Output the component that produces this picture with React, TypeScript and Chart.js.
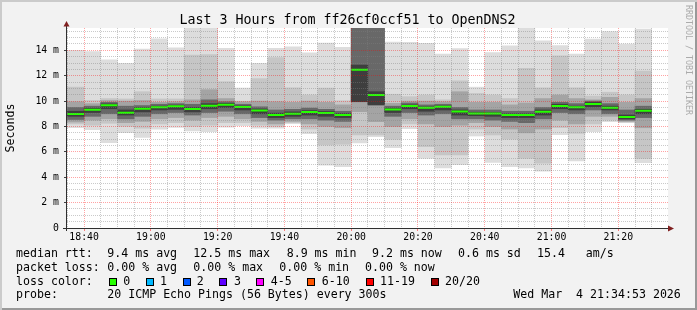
import React, { useEffect, useRef } from 'react';
import { Chart, registerables } from 'chart.js';

Chart.register(...registerables);

// ---- data ----
const barStarts = [
  '18:35', '18:40', '18:45', '18:50', '18:55', '19:00', '19:05', '19:10', '19:15', '19:20',
  '19:25', '19:30', '19:35', '19:40', '19:45', '19:50', '19:55', '20:00', '20:05', '20:10',
  '20:15', '20:20', '20:25', '20:30', '20:35', '20:40', '20:45', '20:50', '20:55', '21:00',
  '21:05', '21:10', '21:15', '21:20', '21:25',
];
const medianMs = [
  8.98, 9.32, 9.67, 9.09, 9.4, 9.51, 9.59, 9.38, 9.64, 9.72,
  9.53, 9.25, 8.9, 9.01, 9.14, 9.06, 8.9, 12.47, 10.48, 9.33,
  9.62, 9.48, 9.56, 9.18, 9.03, 9.02, 8.9, 8.9, 9.17, 9.62,
  9.51, 9.78, 9.48, 8.74, 9.23,
];
const maxMs = [
  14.0, 13.9, 13.25, 12.98, 14.1, 14.9, 14.2, 15.8, 15.8, 14.16,
  11.03, 12.98, 14.16, 14.28, 13.8, 14.57, 14.24, 20, 20, 14.65,
  14.63, 14.55, 13.7, 14.13, 11.1, 13.82, 14.36, 15.8, 14.75, 14.37,
  13.7, 14.89, 15.47, 14.5, 15.67,
];
const hi2 = [
  11.1, 10.05, 10.2, 10.17, 10.74, 10.17, 10.17, 13.63, 13.66, 11.53,
  10.0, 11.77, 13.42, 11.05, 10.48, 11.03, 10.03, 20, 20, 10.54,
  10.35, 10.48, 10.09, 11.6, 10.6, 10.48, 10.2, 12.58, 11.05, 13.56,
  11.05, 10.4, 10.7, 10.48, 12.37,
];
const hi3 = [
  9.95, 9.8, 10.05, 10.0, 10.05, 9.9, 9.95, 10.1, 10.9, 10.2,
  9.95, 10.0, 9.95, 9.9, 10.0, 9.9, 9.7, 20, 20, 9.82,
  10.0, 10.0, 9.95, 10.74, 9.9, 9.9, 9.7, 9.85, 10.2, 10.48,
  10.2, 10.1, 10.3, 9.9, 10.2,
];
const hi4 = [
  9.5, 9.6, 9.9, 9.6, 9.65, 9.75, 9.8, 9.75, 10.1, 9.95,
  9.75, 9.55, 9.3, 9.35, 9.45, 9.35, 9.2, 20, 20, 9.6,
  9.85, 9.7, 9.75, 9.5, 9.3, 9.3, 9.2, 9.2, 9.5, 9.9,
  9.8, 10.0, 9.8, 9.3, 9.6,
];
const hi5 = [
  9.2, 9.45, 9.78, 9.3, 9.5, 9.6, 9.68, 9.5, 9.8, 9.82,
  9.62, 9.38, 9.05, 9.15, 9.25, 9.18, 9.02, 12.84, 10.74, 9.45,
  9.7, 9.55, 9.62, 9.3, 9.12, 9.1, 9.0, 9.0, 9.3, 9.75,
  9.6, 9.9, 9.6, 8.9, 9.35,
];
const lo5 = [
  8.8, 9.1, 9.4, 8.9, 9.15, 9.3, 9.35, 9.15, 9.4, 9.5,
  9.3, 9.0, 8.7, 8.8, 8.9, 8.8, 8.7, 9.95, 9.7, 9.1,
  9.4, 9.2, 9.3, 8.9, 8.85, 8.8, 8.7, 8.7, 8.9, 9.4,
  9.3, 9.55, 9.3, 8.6, 9.0,
];
const lo4 = [
  8.55, 8.8, 9.0, 8.6, 8.8, 9.0, 9.1, 8.9, 9.1, 9.2,
  9.0, 8.7, 8.5, 8.6, 8.6, 8.5, 8.4, 9.95, 9.7, 8.8,
  9.1, 8.9, 9.0, 8.6, 8.6, 8.5, 8.4, 8.3, 8.6, 9.1,
  9.0, 9.3, 9.0, 8.5, 8.7,
];
const lo3 = [
  8.35, 8.5, 8.6, 8.3, 8.4, 8.6, 8.7, 8.5, 8.7, 8.8,
  8.6, 8.4, 8.2, 8.4, 8.2, 8.0, 7.9, 9.16, 8.38, 8.0,
  8.6, 8.2, 8.0, 8.1, 8.3, 8.0, 7.8, 7.5, 7.8, 8.5,
  8.2, 8.8, 8.8, 8.4, 7.9,
];
const lo2 = [
  8.2, 8.1, 8.25, 8.0, 7.86, 8.2, 8.3, 8.0, 8.1, 8.3,
  8.3, 8.1, 8.0, 8.3, 7.8, 6.54, 6.6, 7.33, 7.33, 6.99,
  8.2, 6.41, 5.75, 5.75, 7.8, 7.33, 7.0, 5.49, 5.1, 7.9,
  7.46, 8.2, 8.5, 8.35, 5.49,
];
const minMs = [
  7.9, 7.75, 6.72, 7.51, 7.13, 7.78, 7.92, 7.65, 7.59, 7.95,
  8.06, 7.86, 7.86, 8.22, 7.43, 4.96, 4.83, 6.7, 7.2, 6.33,
  7.83, 5.49, 4.74, 5.0, 7.25, 5.16, 4.83, 4.74, 4.47, 7.35,
  5.29, 7.59, 8.38, 8.3, 5.15,
];
const xTickLabels = ['18:40', '19:00', '19:20', '19:40', '20:00', '20:20', '20:40', '21:00', '21:20'];
const yTickLabels = ['0', '2 m', '4 m', '6 m', '8 m', '10 m', '12 m', '14 m'];
const lossLabels = ['0', '1', '2', '3', '4-5', '6-10', '11-19', '20/20'];
const lossColors = ['#26ff00', '#00b8ff', '#0059ff', '#5e00ff', '#ff00ff', '#ff5500', '#ff0000', '#a10000'];

// ---- constants ----
const STEP = 5;
const toMin = (t: string) => {
  const [h, m] = t.split(':').map(Number);
  return h * 60 + m;
};
const X_MIN = toMin('18:34') + 53 / 60;
const X_MAX = X_MIN + 180;
const Y_MAX = 15.76;
const MONO = "'DejaVu Sans Mono', monospace";
const RED = 'rgba(255,0,0,0.36)';
const GRAY = 'rgba(128,128,128,0.42)';

const fmt = (v: number) => {
  const h = Math.floor(v / 60);
  const m = Math.round(v - h * 60);
  return `${h}:${String(m).padStart(2, '0')}`;
};

const Txt = ({ x, base, size, children, style }: any) => (
  <div
    style={{
      position: 'absolute',
      left: x,
      top: base - 0.846 * size,
      fontFamily: MONO,
      fontSize: size,
      lineHeight: `${size}px`,
      whiteSpace: 'pre',
      color: '#000',
      ...style,
    }}
  >
    {children}
  </div>
);

export default function App() {
  const ref = useRef<HTMLCanvasElement>(null);

  useEffect(() => {
    if (!ref.current) return;
    const layers = [
      { lo: minMs, hi: maxMs, color: '#dddddd' },
      { lo: lo2, hi: hi2, color: '#c6c6c6' },
      { lo: lo3, hi: hi3, color: '#a4a4a4' },
      { lo: lo4, hi: hi4, color: '#686868' },
      { lo: lo5, hi: hi5, color: '#3e3e3e' },
    ];
    const barSets: any[] = layers.map((L, k) => ({
      type: 'bar',
      data: barStarts.map((t, i) => ({ x: toMin(t) + STEP / 2, y: [L.lo[i], L.hi[i]] })),
      backgroundColor: L.color,
      borderWidth: 0,
      grouped: false,
      barPercentage: 1,
      categoryPercentage: 1,
      order: 10 - k,
    }));
    const medData: any[] = [];
    barStarts.forEach((t, i) => {
      const s = toMin(t);
      medData.push({ x: s, y: medianMs[i] }, { x: s + STEP, y: medianMs[i] }, { x: s + STEP, y: null });
    });
    const medSet: any = {
      type: 'line',
      data: medData,
      borderColor: lossColors[0],
      borderWidth: 2,
      pointRadius: 0,
      spanGaps: false,
      tension: 0,
      borderCapStyle: 'butt',
      order: 0,
    };

    const xTicks: number[] = [];
    for (let v = toMin(barStarts[0]); v <= X_MAX; v += STEP) xTicks.push(v);
    const yTicks: number[] = [];
    for (let v = 0; v <= Y_MAX; v += 0.5) yTicks.push(v);

    const bgPlugin = {
      id: 'bg',
      beforeDraw(chart: any) {
        const { ctx, chartArea: a } = chart;
        ctx.save();
        ctx.fillStyle = '#ffffff';
        ctx.fillRect(a.left, a.top, a.right - a.left, a.bottom - a.top);
        ctx.restore();
      },
    };
    const axesPlugin = {
      id: 'axes',
      afterDraw(chart: any) {
        const { ctx, chartArea: a } = chart;
        ctx.save();
        ctx.strokeStyle = '#303030';
        ctx.lineWidth = 1;
        ctx.beginPath();
        ctx.moveTo(a.left - 4, a.bottom + 0.5);
        ctx.lineTo(a.right + 3, a.bottom + 0.5);
        ctx.moveTo(a.left - 0.5, a.bottom + 3);
        ctx.lineTo(a.left - 0.5, a.top - 3);
        ctx.stroke();
        ctx.fillStyle = '#802020';
        ctx.beginPath();
        ctx.moveTo(a.right + 6, a.bottom + 0.5);
        ctx.lineTo(a.right, a.bottom - 2.5);
        ctx.lineTo(a.right, a.bottom + 3.5);
        ctx.closePath();
        ctx.fill();
        ctx.beginPath();
        ctx.moveTo(a.left - 0.5, a.top - 7);
        ctx.lineTo(a.left - 3.5, a.top - 1.5);
        ctx.lineTo(a.left + 2.5, a.top - 1.5);
        ctx.closePath();
        ctx.fill();
        ctx.restore();
      },
    };

    const chart = new Chart(ref.current, {
      type: 'bar',
      data: { datasets: [...barSets, medSet] },
      options: {
        animation: false,
        responsive: false,
        devicePixelRatio: 1,
        events: [],
        layout: { padding: { left: 0, top: 28, right: 29, bottom: 52 } },
        plugins: { legend: { display: false }, tooltip: { enabled: false } },
        scales: {
          x: {
            type: 'linear',
            min: X_MIN,
            max: X_MAX,
            offset: false,
            grid: {
              offset: false,
              z: 1,
              lineWidth: 1,
              color: (c: any) => (c.tick && Math.round(c.tick.value) % 20 === 0 ? RED : GRAY),
              drawTicks: true,
              tickLength: 3,
              tickColor: (c: any) => (c.tick && Math.round(c.tick.value) % 20 === 0 ? 'rgba(255,0,0,0.5)' : 'rgba(0,0,0,0)'),
            },
            border: { display: false, dash: [1, 1] },
            ticks: {
              autoSkip: false,
              maxRotation: 0,
              minRotation: 0,
              padding: 1,
              color: '#000',
              font: { family: MONO, size: 9.8 },
              callback: (v: any) => {
                const s = fmt(Number(v));
                return xTickLabels.includes(s) ? s : '';
              },
            },
            afterBuildTicks: (scale: any) => {
              scale.ticks = xTicks.map((v) => ({ value: v }));
            },
            afterFit: (scale: any) => {
              scale.height = 30;
            },
          },
          y: {
            type: 'linear',
            min: 0,
            max: Y_MAX,
            grid: {
              z: 1,
              lineWidth: 1,
              color: (c: any) => (c.tick && c.tick.value % 2 === 0 ? RED : GRAY),
              drawTicks: true,
              tickLength: 3,
              tickColor: (c: any) => (c.tick && c.tick.value % 2 === 0 ? '#404040' : 'rgba(0,0,0,0)'),
            },
            border: { display: false, dash: [1, 1] },
            ticks: {
              autoSkip: false,
              padding: 5,
              color: '#000',
              font: { family: MONO, size: 9.8 },
              callback: (v: any) => {
                const n = Number(v);
                return n % 2 === 0 ? yTickLabels[n / 2] ?? '' : '';
              },
            },
            title: {
              display: true,
              text: 'Seconds',
              color: '#000',
              font: { family: MONO, size: 11.6 },
              padding: { top: 4, bottom: 0 },
            },
            afterBuildTicks: (scale: any) => {
              scale.ticks = yTicks.map((v) => ({ value: v }));
            },
            afterFit: (scale: any) => {
              scale.width = 67;
            },
          },
        },
      } as any,
      plugins: [bgPlugin, axesPlugin],
    } as any);
    return () => chart.destroy();
  }, []);

  const row1: [number, string][] = [
    [16, 'median rtt:'], [107.3, '9.4 ms avg'], [193.3, '12.5 ms max'], [286.7, '8.9 ms min'],
    [372, '9.2 ms now'], [458, '0.6 ms sd'], [537, '15.4   am/s'],
  ];
  const row2: [number, string][] = [
    [16, 'packet loss:'], [107.3, '0.00 % avg'], [193.3, '0.00 % max'], [279.3, '0.00 % min'], [365, '0.00 % now'],
  ];
  const row4: [number, string][] = [
    [16, 'probe:'], [107.3, '20 ICMP Echo Pings (56 Bytes) every 300s'], [513.3, 'Wed Mar  4 21:34:53 2026'],
  ];
  const boxX = [108.7, 145.7, 182.7, 219.3, 256, 307.3, 365.7, 430.7];
  const labX = [123.3, 160, 196.7, 234, 270.7, 321.7, 380, 445];
  const LS = 11.6;

  return (
    <div
      style={{
        position: 'fixed',
        left: 0,
        top: 0,
        width: 697,
        height: 310,
        background: '#f2f2f2',
        boxShadow: 'inset 2px 2px 0 #cbcbcb, inset -2px -2px 0 #999999',
        overflow: 'hidden',
      }}
    >
      <canvas ref={ref} width={697} height={310} style={{ position: 'absolute', left: 0, top: 0, width: 697, height: 310 }} />
      <div
        style={{
          position: 'absolute',
          left: 0,
          width: 695,
          top: 24 - 0.846 * 13.3,
          textAlign: 'center',
          fontFamily: MONO,
          fontSize: 13.3,
          lineHeight: '13.3px',
          whiteSpace: 'pre',
          color: '#000',
        }}
      >
        Last 3 Hours from ff26cf0ccf51 to OpenDNS2
      </div>
      <div
        style={{
          position: 'absolute',
          left: 684,
          top: 5,
          writingMode: 'vertical-rl',
          fontFamily: MONO,
          fontSize: 8.3,
          lineHeight: '9px',
          whiteSpace: 'pre',
          color: '#ababab',
        }}
      >
        RRDTOOL / TOBI OETIKER
      </div>
      {row1.map(([x, s]) => (
        <Txt key={'a' + x} x={x} base={258.3} size={LS}>{s}</Txt>
      ))}
      {row2.map(([x, s]) => (
        <Txt key={'b' + x} x={x} base={271.8} size={LS}>{s}</Txt>
      ))}
      <Txt x={16} base={285.4} size={LS}>loss color:</Txt>
      {lossLabels.map((l, i) => (
        <React.Fragment key={'c' + i}>
          <div
            style={{
              position: 'absolute',
              left: boxX[i],
              top: 278.3,
              width: 8,
              height: 8,
              boxSizing: 'border-box',
              border: '1px solid #000',
              background: lossColors[i],
            }}
          />
          <Txt x={labX[i]} base={285.4} size={LS}>{l}</Txt>
        </React.Fragment>
      ))}
      {row4.map(([x, s]) => (
        <Txt key={'d' + x} x={x} base={299} size={LS}>{s}</Txt>
      ))}
    </div>
  );
}
